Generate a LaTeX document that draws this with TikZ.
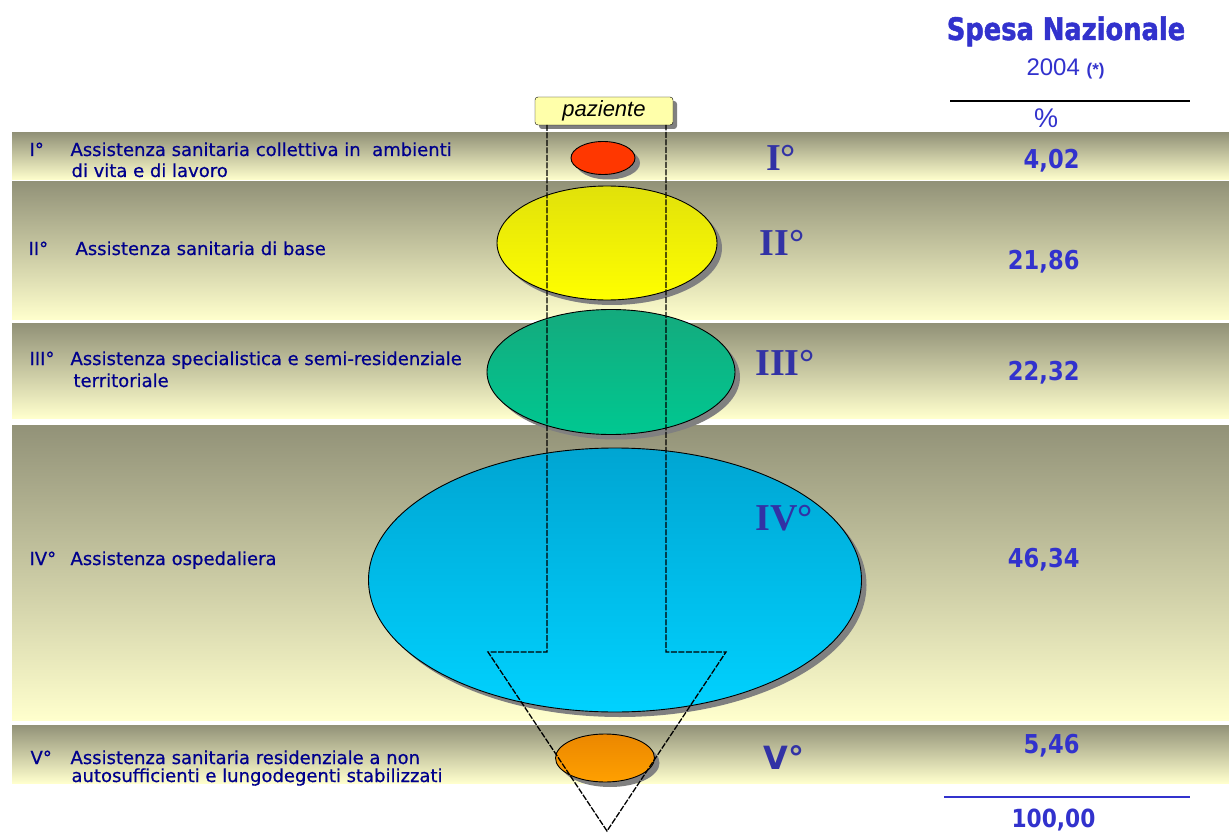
\documentclass[tikz,border=0pt]{standalone}
\usepackage{fontspec}
\setmainfont{DejaVu Sans}
\newfontfamily\serifbold{Liberation Serif}
\newfontfamily\arial{Liberation Sans}
\newfontfamily\lblfont[FakeBold=0.6]{DejaVu Sans}
\newfontfamily\numfont[FakeStretch=0.87]{DejaVu Sans}
\newfontfamily\headfont[FakeStretch=0.83,FakeBold=1.5]{DejaVu Sans}
\usetikzlibrary{shapes.geometric}
\usetikzlibrary{shadows}

\definecolor{bandtop}{RGB}{146,146,120}
\definecolor{bandbot}{RGB}{255,255,205}
\definecolor{navy}{RGB}{0,0,140}
\definecolor{lilac}{RGB}{50,50,165}
\definecolor{numblue}{RGB}{50,50,205}
\definecolor{pzfill}{RGB}{255,255,170}
\definecolor{redlev}{RGB}{255,55,0}
\definecolor{yeltop}{RGB}{225,225,10}
\definecolor{yelbot}{RGB}{255,255,0}
\definecolor{grntop}{RGB}{20,170,125}
\definecolor{grnbot}{RGB}{0,200,145}
\definecolor{blutop}{RGB}{0,165,210}
\definecolor{blubot}{RGB}{0,210,255}
\definecolor{orgtop}{RGB}{235,135,0}
\definecolor{orgbot}{RGB}{255,160,0}

\begin{document}
\begin{tikzpicture}[x=1pt,y=-1pt,
  band/.style={top color=bandtop, bottom color=bandbot, draw=none},
  level/.style={ellipse, draw=black, line width=0.9pt, inner sep=0pt,
    drop shadow={shadow xshift=5pt, shadow yshift=-5pt, fill=gray, opacity=1}},
  lbl/.style={anchor=base west, text=navy, font=\lblfont\fontsize{18}{21}\selectfont},
  rom/.style={anchor=base, text=lilac, font=\serifbold\bfseries\fontsize{38}{38}\selectfont},
  pct/.style={anchor=base east, text=numblue, font=\numfont\bfseries\fontsize{26}{26}\selectfont},
  flow/.style={black, line width=1.3pt, dash pattern=on 6pt off 1.5pt}]
\useasboundingbox (0,0) rectangle (1229,834);
\fill[white] (0,0) rectangle (1229,834);
% bands
\fill[band] (12,133) rectangle (1229,180);
\fill[band] (12,182) rectangle (1229,320);
\fill[band] (12,324) rectangle (1229,418);
\fill[band] (12,425) rectangle (1229,720);
\fill[band] (12,725) rectangle (1229,783);
% levels
\node[level, fill=redlev, minimum width=64pt, minimum height=33pt] (lvI) at (603,158) {};
\node[level, top color=yeltop, bottom color=yelbot, minimum width=220pt, minimum height=114pt] (lvII) at (607,243) {};
\node[level, top color=grntop, bottom color=grnbot, minimum width=248pt, minimum height=125pt] (lvIII) at (611,372) {};
\node[level, top color=blutop, bottom color=blubot, minimum width=493pt, minimum height=264pt] (lvIV) at (615,580) {};
\node[level, top color=orgtop, bottom color=orgbot, minimum width=99pt, minimum height=48pt] (lvV) at (605,758) {};
% paziente
\node[draw=black, rounded corners=3pt, fill=pzfill, minimum width=138pt, minimum height=28pt,
  drop shadow={shadow xshift=4pt, shadow yshift=-4pt, fill=gray, opacity=1},
  font=\arial\itshape\fontsize{22}{22}\selectfont] (pz) at (604,111) {paziente};
\coordinate (inL) at (547,125);
\coordinate (inR) at (666,125);
\coordinate (shL) at (547,652);
\coordinate (shR) at (666,652);
\coordinate (wgL) at (488,652);
\coordinate (wgR) at (726,652);
\coordinate (tip) at (607,831);
\draw[flow] (inL) -- (shL) -- (wgL) -- (tip) -- (wgR) -- (shR) -- (inR);
% left labels
\node[lbl] (nI) at (26,156) {I°};
\node[lbl] (tIa) at (67,156) {Assistenza sanitaria collettiva in\ \ ambienti};
\node[lbl] (tIb) at (68,177) {di vita e di lavoro};
\node[lbl] (nII) at (25,255) {II°};
\node[lbl] (tII) at (72,255) {Assistenza sanitaria di base};
\node[lbl] (nIII) at (26,365) {III°};
\node[lbl] (tIIIa) at (67,365) {Assistenza specialistica e semi-residenziale};
\node[lbl] (tIIIb) at (70,387) {territoriale};
\node[lbl] (nIV) at (26,565) {IV°};
\node[lbl] (tIV) at (67,565) {Assistenza ospedaliera};
\node[lbl] (nV) at (27,764) {V°};
\node[lbl] (tVa) at (67,764) {Assistenza sanitaria residenziale a non};
\node[lbl] (tVb) at (68,782) {autosufficienti e lungodegenti stabilizzati};
% roman numerals
\node[rom] (rI) at (781,171) {I°};
\node[rom] (rII) at (782,256) {II°};
\node[rom] (rIII) at (785,375) {III°};
\node[rom] (rIV) at (784,530) {IV°};
\node[rom, font=\bfseries\fontsize{32}{32}\selectfont] (rV) at (784,769) {V°};
% header and percentages
\node[anchor=base, text=numblue, font=\headfont\bfseries\fontsize{31}{31}\selectfont] (head) at (1066,40) {Spesa Nazionale};
\node[anchor=base west, text=numblue, font=\arial\fontsize{24}{24}\selectfont] (year) at (1023,76) {2004 {\bfseries\fontsize{17}{17}\selectfont (*)}};
\draw[line width=1.5pt] (950,101) -- (1190,101);
\node[anchor=base, text=numblue, font=\arial\fontsize{27}{27}\selectfont] (unit) at (1046,128) {\%};
\node[pct] (pI) at (1083,169) {4,02};
\node[pct] (pII) at (1083,270) {21,86};
\node[pct] (pIII) at (1083,381) {22,32};
\node[pct] (pIV) at (1083,567) {46,34};
\node[pct] (pV) at (1083,753) {5,46};
\draw[numblue, line width=2pt] (944,797) -- (1190,797);
\node[pct, font=\numfont\bfseries\fontsize{25}{25}\selectfont] (tot) at (1099,827) {100,00};
\end{tikzpicture}
\end{document}
